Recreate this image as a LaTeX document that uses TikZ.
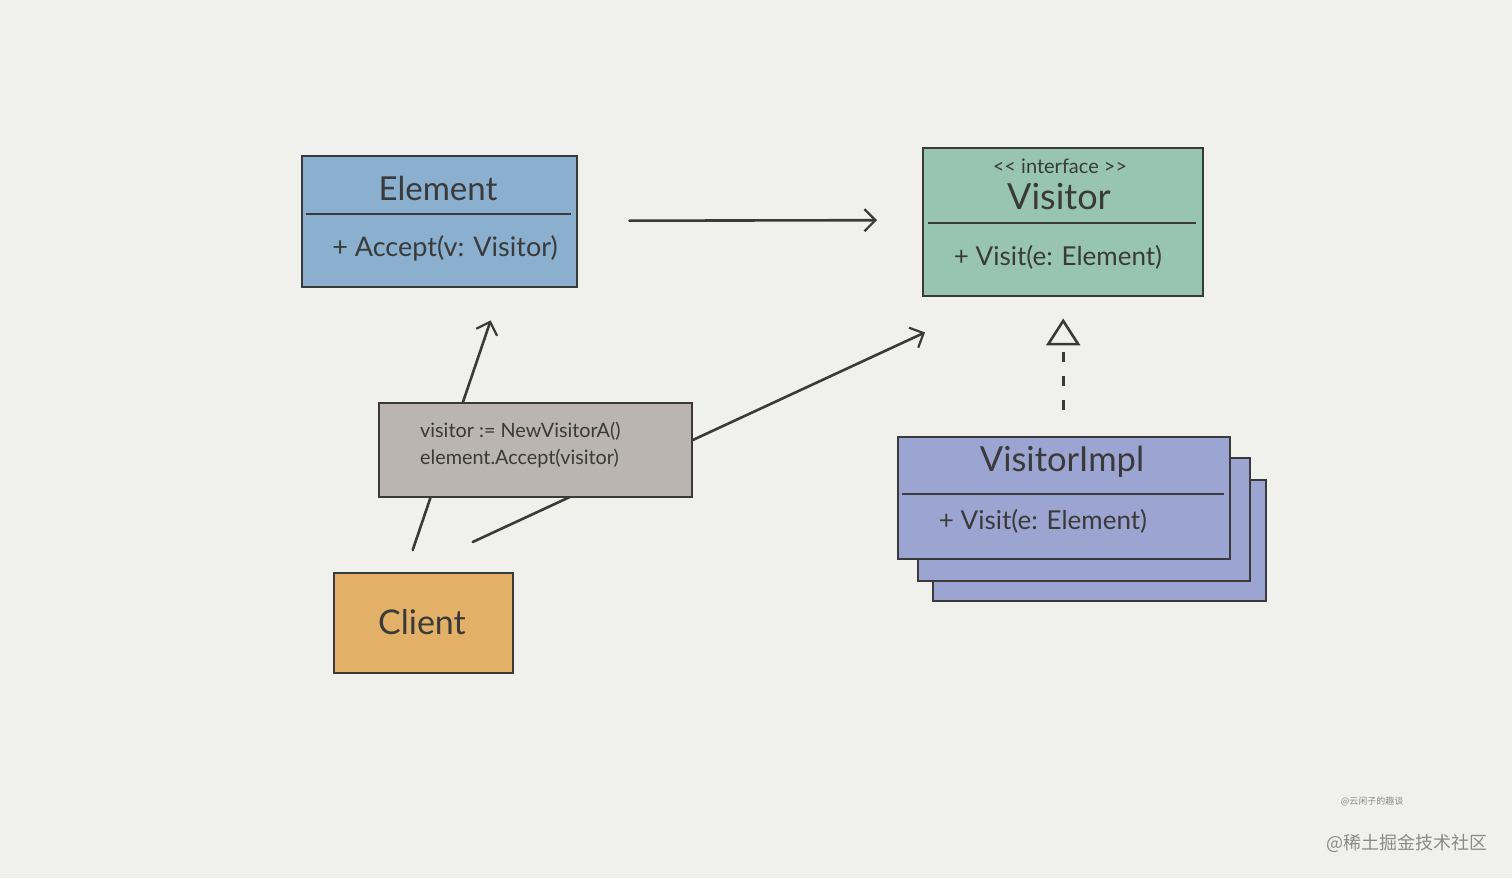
\documentclass[tikz,border=0pt]{standalone}
\usepackage{fontspec}
\setmainfont{Lato}
\newfontfamily\cjk{Noto Sans CJK SC}
\usetikzlibrary{arrows.meta,calc}
\definecolor{bg}{HTML}{F0F0ED}
\definecolor{pen}{HTML}{3A3A3A}
\definecolor{elemfill}{HTML}{8AAFCF}
\definecolor{visfill}{HTML}{98C5B2}
\definecolor{implfill}{HTML}{9CA4D2}
\definecolor{notefill}{HTML}{BAB5AE}
\definecolor{clientfill}{HTML}{E2B066}
\definecolor{wm}{HTML}{8A8A8A}
\tikzset{
  umlbox/.style={draw=pen, line width=2.4pt, anchor=north west, inner sep=0pt},
  divider/.style={draw=pen, line width=2.4pt},
  conn/.style={draw=pen, line width=2.6pt, line cap=round},
  openhead/.style={-{Straight Barb[length=11pt,width=22pt,line width=2.2pt]}},
  txt/.style={text=pen, inner sep=0pt},
}
\begin{document}
\begin{tikzpicture}[x=1pt,y=-1pt]
\fill[bg] (0,0) rectangle (1512,878);
\useasboundingbox (0,0) rectangle (1512,878);

% Element
\node[umlbox, fill=elemfill, minimum width=275pt, minimum height=131pt] (element) at (301,155) {};
\draw[divider] (306,214) -- (571,214);
\node[txt, font=\fontsize{33}{38}\selectfont] (elemname) at (438,188) {Element};
\node[txt, font=\fontsize{27}{31}\selectfont] (elemop) at (445,248) {+ Accept(v: Visitor)};

% Visitor
\node[umlbox, fill=visfill, minimum width=280pt, minimum height=148pt] (visitor) at (922,147) {};
\draw[divider] (928,223) -- (1196,223);
\node[txt, font=\fontsize{20}{24}\selectfont] (stereo) at (1060,166) {{<}{<} interface {>}{>}};
\node[txt, font=\fontsize{36}{40}\selectfont] (visname) at (1059,197) {Visitor};
\node[txt, font=\fontsize{26}{30}\selectfont] (visop) at (1058,257) {+ Visit(e: Element)};

% VisitorImpl stack
\node[umlbox, fill=implfill, minimum width=333pt, minimum height=121pt] (impl3) at (932,479) {};
\node[umlbox, fill=implfill, minimum width=332pt, minimum height=123pt] (impl2) at (917,457) {};
\node[umlbox, fill=implfill, minimum width=332pt, minimum height=122pt] (impl) at (897,436) {};
\draw[divider] (902,494) -- (1224,494);
\node[txt, font=\fontsize{34.5}{38}\selectfont] (implname) at (1062,462) {VisitorImpl};
\node[txt, font=\fontsize{26}{30}\selectfont] (implop) at (1043,521) {+ Visit(e: Element)};

% Client
\node[umlbox, fill=clientfill, minimum width=179pt, minimum height=100pt] (client) at (333,572) {};
\node[txt, font=\fontsize{34}{38}\selectfont] (clientname) at (422,622) {Client};

% connector end points
\coordinate (c1) at ($(client.north)+(-11,-22)$);
\coordinate (e1) at ($(element.south)+(51,32)$);
\coordinate (c2) at ($(client.north)+(49,-30)$);
\coordinate (v1) at ($(visitor.south west)+(3,35)$);
\coordinate (ev0) at ($(element.east)+(51,-1)$);
\coordinate (ev1) at ($(visitor.west)+(-45,-2)$);
\coordinate (i1) at ($(impl.north)+(-1,-26)$);
\coordinate (i0) at ($(visitor.south)+(0,21)$);

% connectors from client (behind the note)
\draw[conn, openhead] (c1) -- (e1);
\draw[conn, openhead] (c2) -- (v1);

% note
\node[umlbox, fill=notefill, minimum width=313pt, minimum height=94pt] (note) at (378,402) {};
\node[txt, anchor=west, font=\fontsize{19.8}{24}\selectfont] (n1) at (420,431) {visitor := NewVisitorA()};
\node[txt, anchor=west, font=\fontsize{19.8}{24}\selectfont] (n2) at (420,459) {element.Accept(visitor)};

% element -> visitor
\draw[conn, openhead] (ev0) -- (ev1);

% realization
\draw[conn, line width=3.2pt, line cap=butt, dash pattern=on 10pt off 14pt, -{Triangle[open,length=27pt,width=34pt,line width=2.6pt]}] (i1) -- (i0);

% watermarks
\node[txt, text=wm, font=\cjk\fontsize{9}{10}\selectfont] (wm1) at (1372,801) {@云闲子的趣谈};
\node[txt, text=wm, font=\cjk\fontsize{18}{20}\selectfont] (wm2) at (1407,843) {@稀土掘金技术社区};
\end{tikzpicture}
\end{document}
